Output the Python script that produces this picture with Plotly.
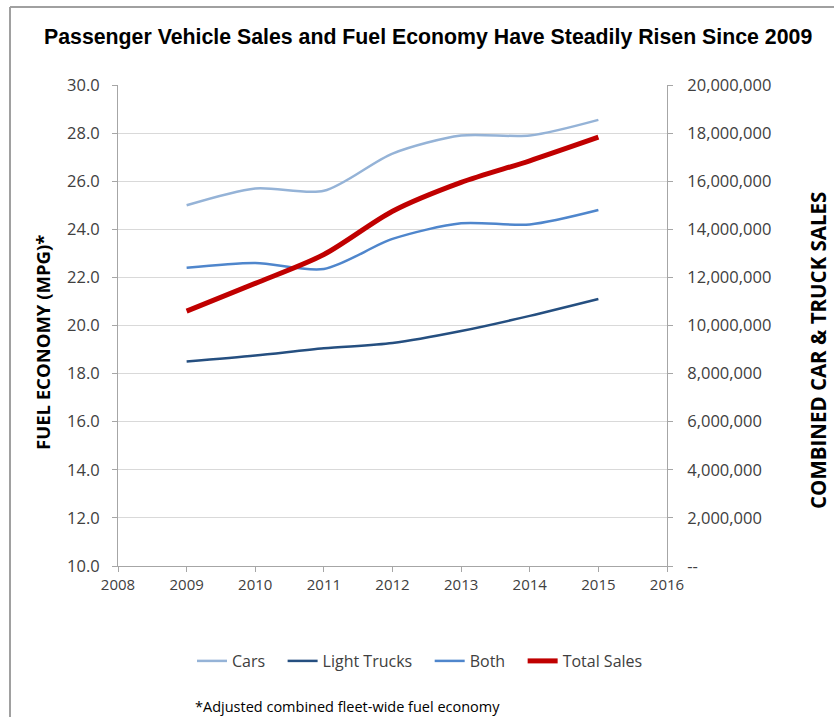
import plotly.graph_objects as go

years = [2009, 2010, 2011, 2012, 2013, 2014, 2015]
cars = [25.0, 25.7, 25.6, 27.15, 27.9, 27.9, 28.55]
light_trucks = [18.5, 18.75, 19.05, 19.27, 19.77, 20.4, 21.1]
both = [22.4, 22.6, 22.35, 23.6, 24.25, 24.2, 24.8]
total_sales = [10600000, 11750000, 12950000, 14750000, 15950000, 16850000, 17830000]

x_ticks = [2008, 2009, 2010, 2011, 2012, 2013, 2014, 2015, 2016]
left_ticks = [10, 12, 14, 16, 18, 20, 22, 24, 26, 28, 30]
right_ticks = [0, 2000000, 4000000, 6000000, 8000000, 10000000, 12000000, 14000000, 16000000, 18000000, 20000000]
right_labels = ["--"] + [f"{v:,}" for v in right_ticks[1:]]

W, H = 835, 717
L, R, T, B = 118, 667, 85, 566

FONT = "Open Sans, DejaVu Sans, sans-serif"
PAD = "\u00a0\u00a0\u00a0"

fig = go.Figure()
fig.add_trace(go.Scatter(x=years, y=cars, name="Cars" + PAD, mode="lines",
                         line=dict(color="#95B3D7", width=2.5, shape="spline", smoothing=0.8)))
fig.add_trace(go.Scatter(x=years, y=light_trucks, name="Light Trucks" + PAD, mode="lines",
                         line=dict(color="#254F80", width=2.5, shape="spline", smoothing=0.8)))
fig.add_trace(go.Scatter(x=years, y=both, name="Both" + PAD, mode="lines",
                         line=dict(color="#4F86CC", width=2.5, shape="spline", smoothing=0.8)))
fig.add_trace(go.Scatter(x=years, y=total_sales, name="Total Sales", mode="lines", yaxis="y2",
                         line=dict(color="#C00000", width=5, shape="spline", smoothing=0.8)))

yfont = dict(family=FONT, size=16.5, color="#404040")
xfont = dict(family=FONT, size=15, color="#404040")

fig.update_layout(
    width=W, height=H,
    margin=dict(l=L, r=W - R, t=T, b=H - B),
    paper_bgcolor="white", plot_bgcolor="white",
    showlegend=True,
    xaxis=dict(range=[2008, 2016], tickvals=x_ticks, ticks="outside", ticklen=5,
               tickcolor="#A6A6A6", showline=True, linecolor="#A6A6A6", linewidth=1,
               showgrid=False, zeroline=False, tickfont=xfont),
    yaxis=dict(range=[10, 30], tickvals=left_ticks, tickformat=".1f", ticks="outside",
               ticklen=5, tickcolor="#A6A6A6", showline=True, linecolor="#A6A6A6",
               showgrid=True, gridcolor="#D9D9D9", zeroline=False, tickfont=yfont,
               ticklabelstandoff=9),
    yaxis2=dict(range=[0, 20000000], tickvals=right_ticks, ticktext=right_labels,
                overlaying="y", side="right", ticks="outside", ticklen=5,
                tickcolor="#A6A6A6", showline=True, linecolor="#A6A6A6",
                showgrid=False, zeroline=False, tickfont=yfont, ticklabelstandoff=11),
    legend=dict(orientation="h", x=(420 - L) / (R - L), xanchor="center",
                y=(B - 661) / (B - T), yanchor="middle",
                font=dict(family=FONT, size=16, color="#404040"),
                itemwidth=30, bgcolor="rgba(0,0,0,0)"),
)

def px_x(p):
    return (p - L) / (R - L)

def px_y(p):
    return (B - p) / (B - T)

fig.add_annotation(text="<b>Passenger Vehicle Sales and Fuel Economy Have Steadily Risen Since 2009</b>",
                   xref="paper", yref="paper", x=px_x(428), y=px_y(37), showarrow=False,
                   xanchor="center", yanchor="middle",
                   font=dict(family="Liberation Sans, Arial, sans-serif", size=21.3, color="black"))
fig.add_annotation(text="<b>FUEL ECONOMY (MPG)*</b>", textangle=-90,
                   xref="paper", yref="paper", x=px_x(43), y=px_y(343), showarrow=False,
                   xanchor="center", yanchor="middle",
                   font=dict(family=FONT, size=18.5, color="black"))
fig.add_annotation(text="<b>COMBINED CAR &amp; TRUCK SALES</b>", textangle=-90,
                   xref="paper", yref="paper", x=px_x(818), y=px_y(351), showarrow=False,
                   xanchor="center", yanchor="middle",
                   font=dict(family=FONT, size=20.5, color="black"))
fig.add_annotation(text="*Adjusted combined fleet-wide fuel economy",
                   xref="paper", yref="paper", x=px_x(193), y=px_y(706), showarrow=False,
                   xanchor="left", yanchor="middle",
                   font=dict(family=FONT, size=14.5, color="black"))

# frame lines
fig.add_shape(type="line", xref="paper", yref="paper", x0=px_x(10), x1=px_x(834),
              y0=px_y(7), y1=px_y(7), line=dict(color="#A0A0A0", width=2))
fig.add_shape(type="line", xref="paper", yref="paper", x0=px_x(10), x1=px_x(10),
              y0=px_y(7), y1=px_y(717), line=dict(color="#A0A0A0", width=2))

fig.write_html("out.html", config={"displayModeBar": False},
               post_script="document.body.style.margin='0px';")
